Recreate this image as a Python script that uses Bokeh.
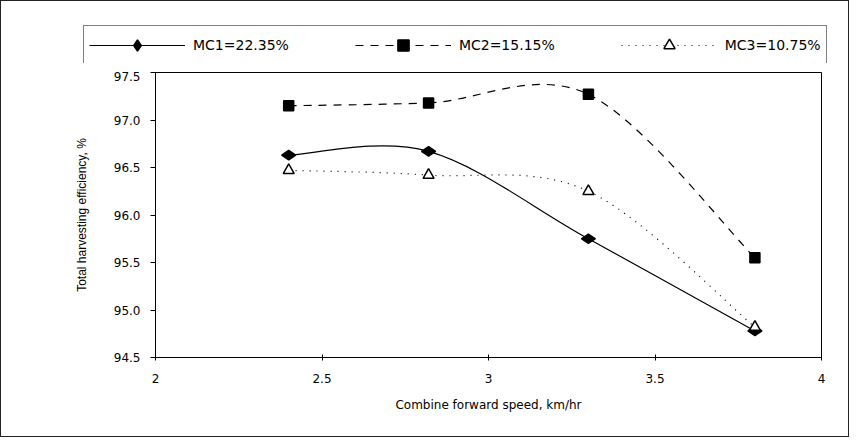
import math
from bokeh.plotting import figure
from bokeh.models import Legend, LegendItem, FixedTicker, Range1d
from bokeh.embed import file_html
from bokeh.resources import INLINE

speed = [2.4, 2.82, 3.3, 3.8]
mc1 = [96.63, 96.67, 95.75, 94.78]
mc2 = [97.15, 97.18, 97.27, 95.55]
mc3 = [96.47, 96.42, 96.25, 94.82]
labels = ["MC1=22.35%", "MC2=15.15%", "MC3=10.75%"]
x_ticks = [2, 2.5, 3, 3.5, 4]
y_ticks = [94.5, 95.0, 95.5, 96.0, 96.5, 97.0, 97.5]

FONT = "Liberation Sans"
FONT2 = "DejaVu Sans"

p = figure(width=849, height=366, output_backend="svg", toolbar_location=None,
           x_range=Range1d(2, 4), y_range=Range1d(94.5, 97.5),
           min_border_left=154, min_border_right=29, min_border_top=1, min_border_bottom=80)
p.grid.visible = False
p.outline_line_color = "black"
p.outline_line_width = 1
p.styles = {"border-left": "1px solid #222", "border-right": "1px solid #222",
            "border-bottom": "1px solid #222"}

# legend strip above the chart; its ranges keep the proxy marks out of view
lf = figure(width=849, height=71, output_backend="svg", toolbar_location=None,
            x_range=Range1d(0, 1), y_range=Range1d(0, 1),
            min_border_left=82, min_border_right=10, min_border_top=24, min_border_bottom=9)
lf.axis.visible = False
lf.grid.visible = False
lf.outline_line_color = None
lf.styles = {"border-left": "1px solid #222", "border-right": "1px solid #222",
             "border-top": "1px solid #222"}

def smooth(xs, ys):
    n = len(xs)
    seg = dict(x0=[], y0=[], x1=[], y1=[], cx0=[], cy0=[], cx1=[], cy1=[])
    for i in range(n - 1):
        xp, yp = (xs[i - 1], ys[i - 1]) if i > 0 else (xs[i], ys[i])
        xn, yn = (xs[i + 2], ys[i + 2]) if i + 2 < n else (xs[i + 1], ys[i + 1])
        seg["x0"].append(xs[i]); seg["y0"].append(ys[i])
        seg["x1"].append(xs[i + 1]); seg["y1"].append(ys[i + 1])
        seg["cx0"].append(xs[i] + (xs[i + 1] - xp) / 6)
        seg["cy0"].append(ys[i] + (ys[i + 1] - yp) / 6)
        seg["cx1"].append(xs[i + 1] - (xn - xs[i]) / 6)
        seg["cy1"].append(ys[i + 1] - (yn - ys[i]) / 6)
    return seg

styles = [
    (mc1, "solid", "diamond", "black", 14, math.pi / 2),
    (mc2, "8 7", "square", "black", 10, 0),
    (mc3, "1 6", "triangle", "white", 11, 0),
]
items = []
for (vals, dash, marker, fill, size, ang), lab in zip(styles, labels):
    s = smooth(speed, vals)
    line_kw = dict(line_color="black", line_width=1.2, line_dash=dash)
    mark_kw = dict(marker=marker, size=size, fill_color=fill, angle=ang,
                   line_color="black", line_width=1.5)
    bez = dict(x0=s["x0"], y0=s["y0"], x1=s["x1"], y1=s["y1"],
               cx0=s["cx0"], cy0=s["cy0"], cx1=s["cx1"], cy1=s["cy1"])
    p.bezier(**bez, **line_kw)
    p.scatter(speed, vals, **mark_kw)
    lb = lf.bezier(**bez, **line_kw)
    ls = lf.scatter(speed, vals, **mark_kw)
    items.append(LegendItem(label=lab, renderers=[lb, ls]))

legend = Legend(items=items, orientation="horizontal", location="top_left",
                border_line_color="black", border_line_width=1,
                label_text_font=FONT2, label_text_font_size="14px",
                label_text_color="black",
                glyph_width=96, glyph_height=28, spacing=66, padding=5, margin=0,
                label_standoff=8, background_fill_alpha=1)
lf.add_layout(legend, "center")

p.xaxis.ticker = FixedTicker(ticks=x_ticks)
p.yaxis.ticker = FixedTicker(ticks=y_ticks)
p.xaxis.major_label_overrides = {2: "2", 2.5: "2.5", 3: "3", 3.5: "3.5", 4: "4"}
p.yaxis.major_label_overrides = {v: f"{v:.1f}" for v in y_ticks}
p.xaxis.axis_label = "Combine forward speed, km/hr"
p.yaxis.axis_label = "Total harvesting efficiency, %"
for ax in (p.xaxis, p.yaxis):
    ax.axis_line_color = "black"
    ax.major_tick_line_color = "black"
    ax.minor_tick_line_color = None
    ax.major_label_text_font = FONT2
    ax.major_label_text_font_size = "12px"
    ax.major_label_text_color = "black"
    ax.axis_label_text_font_style = "normal"
    ax.axis_label_text_color = "black"
    ax.axis_label_text_font_size = "12px"
p.xaxis.axis_label_text_font = FONT2
p.yaxis.axis_label_text_font = FONT
p.xaxis.major_tick_in = 3
p.xaxis.major_tick_out = 3
p.xaxis.major_label_standoff = 13
p.xaxis.axis_label_standoff = 12
p.yaxis.major_tick_in = 0
p.yaxis.major_tick_out = 5
p.yaxis.major_label_standoff = 10
p.yaxis.axis_label_standoff = 22

open("out.html", "w").write(file_html([lf, p], INLINE))
